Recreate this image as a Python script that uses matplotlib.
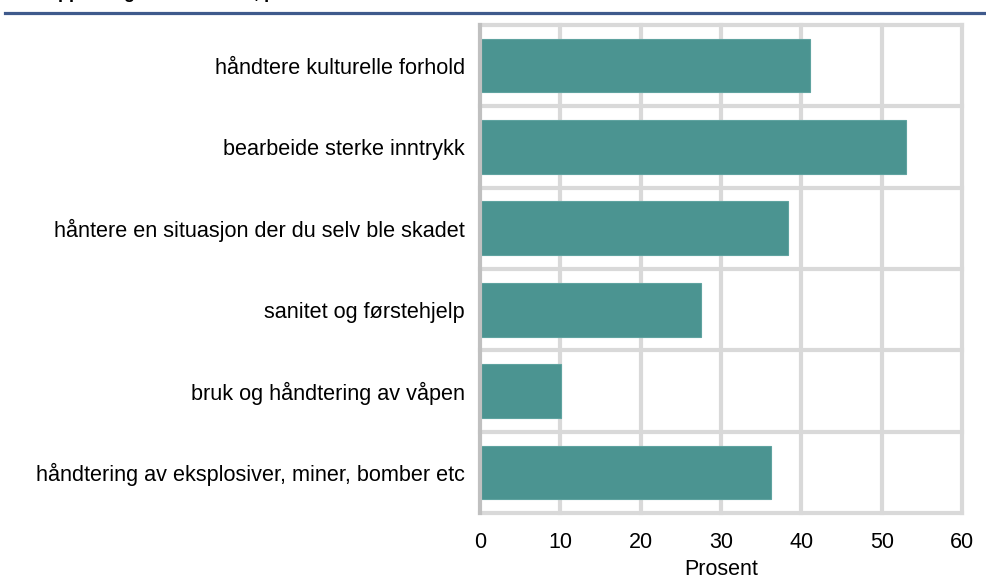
import matplotlib.pyplot as plt
from matplotlib.lines import Line2D

plt.rcParams['font.family'] = ['Liberation Sans', 'DejaVu Sans']

# Data
categories = [
    "håndtere kulturelle forhold",
    "bearbeide sterke inntrykk",
    "håntere en situasjon der du selv ble skadet",
    "sanitet og førstehjelp",
    "bruk og håndtering av våpen",
    "håndtering av eksplosiver, miner, bomber etc",
]
values = [41.1, 53.0, 38.4, 27.5, 10.1, 36.2]
xticks = [0, 10, 20, 30, 40, 50, 60]

bar_color = "#4b9491"
grid_color = "#d9d9d9"

fig = plt.figure(figsize=(9.87, 5.81), dpi=100)
ax = fig.add_axes([0.4863, 0.117, 0.4884, 0.840])

ypos = list(range(len(categories)))
ax.barh(ypos, values, height=0.66, color=bar_color, edgecolor="#5fa3a0",
        linewidth=0.8, zorder=3)

ax.set_xlim(0, 60)
ax.set_ylim(len(categories) - 0.5, -0.5)

# grid: vertical lines at ticks, horizontal separators between categories
for x in xticks:
    c = "#c0c0c0" if x == 0 else grid_color
    ax.axvline(x, color=c, linewidth=3.0, zorder=2 if x else 4, clip_on=False)
for k in range(len(categories) + 1):
    ax.axhline(k - 0.5, color=grid_color, linewidth=3.0, zorder=1, clip_on=False)

for s in ax.spines.values():
    s.set_visible(False)

ax.set_yticks(ypos)
ax.set_yticklabels(categories, fontsize=15.6)
ax.set_xticks(xticks)
ax.set_xticklabels([str(x) for x in xticks], fontsize=15.5)
ax.tick_params(axis='both', length=0)
ax.tick_params(axis='y', pad=11)
ax.tick_params(axis='x', pad=14)
ax.set_xlabel("Prosent", fontsize=15.5, labelpad=4)

# header remnants: cut-off title and blue rule
fig.text(330 / 987, 1 + 1.5 / 581, "Opplæring i ulike temaer, prosent",
         ha='right', va='baseline', fontsize=13, fontweight='bold')
fig.add_artist(Line2D([5 / 987, 1], [1 - 12.5 / 581, 1 - 12.5 / 581],
                      transform=fig.transFigure, color="#3f5a8c", linewidth=2.3))

fig.savefig("out.png", dpi=100)
